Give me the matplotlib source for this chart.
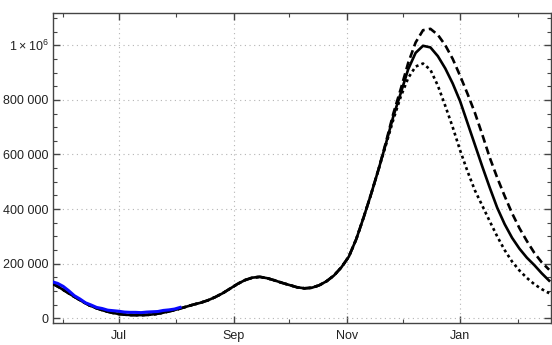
import matplotlib
matplotlib.use("Agg")
import matplotlib.pyplot as plt
import matplotlib.dates as mdates
from matplotlib.ticker import FixedLocator, FixedFormatter, MultipleLocator
import numpy as np
import pandas as pd

plt.rcParams["font.family"] = ["Liberation Sans", "DejaVu Sans"]
plt.rcParams["mathtext.fontset"] = "custom"
plt.rcParams["mathtext.rm"] = "Liberation Sans"

# model curves, every 4 days (values in thousands)
model_dates = pd.date_range("2020-05-26", periods=68, freq="4D")
central_k = [128, 113, 96, 79, 63, 48, 37, 28, 21, 16,
             13, 12, 12, 13, 16, 21, 27, 34, 42, 50,
             57, 66, 78, 92, 109, 126, 140, 149, 152, 147,
             139, 130, 122, 114, 110, 112, 121, 136, 157, 187,
             226, 290, 370, 455, 545, 640, 740, 825, 912, 972,
             998, 992, 960, 915, 860, 795, 715, 635, 555, 478,
             405, 345, 295, 255, 222, 195, 165, 138]
upper_k = central_k[:45] + [645, 750, 840, 935, 1010, 1055, 1060, 1038, 1000, 950,
                            888, 822, 752, 672, 588, 515, 448, 385, 330, 283,
                            240, 205, 178]
lower_k = central_k[:45] + [635, 728, 812, 880, 922, 933, 910, 852, 778, 700,
                            615, 538, 468, 412, 355, 300, 250, 208, 175, 148,
                            125, 107, 92]

# observed data, every 3 days (thousands)
data_dates = pd.date_range("2020-05-26", periods=24, freq="3D")
observed_k = [134, 128, 117, 101, 83, 71, 57, 49, 40, 36,
              30, 28, 26, 23, 22, 22, 21, 23, 24, 25,
              29, 31, 34, 40]

ytick_vals = [0, 200000, 400000, 600000, 800000, 1000000]
ytick_labels = ["0", "200 000", "400 000", "600 000", "800 000", r"$\mathregular{1\times10^{6}}$"]

fig = plt.figure(figsize=(5.52, 3.45), dpi=100)
ax = fig.add_axes([53 / 552, 1 - 323 / 345, 498 / 552, 310 / 345])

lw = 1.9
ax.plot(model_dates, np.array(central_k) * 1000, color="black", lw=lw, zorder=3)
ax.plot(model_dates, np.array(upper_k) * 1000, color="black", lw=lw,
        dashes=(3.0, 1.6), zorder=3)
ax.plot(model_dates, np.array(lower_k) * 1000, color="black", lw=lw,
        dashes=(1.1, 1.2), zorder=3)
ax.plot(data_dates, np.array(observed_k) * 1000, color="#0a0aff", lw=2.2, zorder=4)

ax.set_xlim(pd.Timestamp("2020-05-26 12:00"), pd.Timestamp("2021-02-19"))
ax.set_ylim(-17000, 1118000)

ax.xaxis.set_major_locator(mdates.MonthLocator(bymonth=[1, 3, 5, 7, 9, 11]))
ax.xaxis.set_minor_locator(mdates.MonthLocator(bymonth=[2, 4, 6, 8, 10, 12]))
ax.xaxis.set_major_formatter(mdates.DateFormatter("%b"))

ax.yaxis.set_major_locator(FixedLocator(ytick_vals))
ax.yaxis.set_major_formatter(FixedFormatter(ytick_labels))
ax.yaxis.set_minor_locator(MultipleLocator(50000))

ax.grid(True, which="major", color="#b4b4b4", lw=0.8, linestyle=(0, (1, 3.2)))
ax.set_axisbelow(True)

for sp in ax.spines.values():
    sp.set_color("#444444")
    sp.set_linewidth(1.0)

ax.tick_params(which="both", direction="in", top=True, right=True,
               color="#444444", labelsize=9, labelcolor="#222222")
ax.tick_params(which="major", length=5, width=1.0, pad=3)
ax.tick_params(which="minor", length=3, width=0.8)
ax.tick_params(axis="x", which="major", pad=5)

fig.savefig("out.png", dpi=100)
